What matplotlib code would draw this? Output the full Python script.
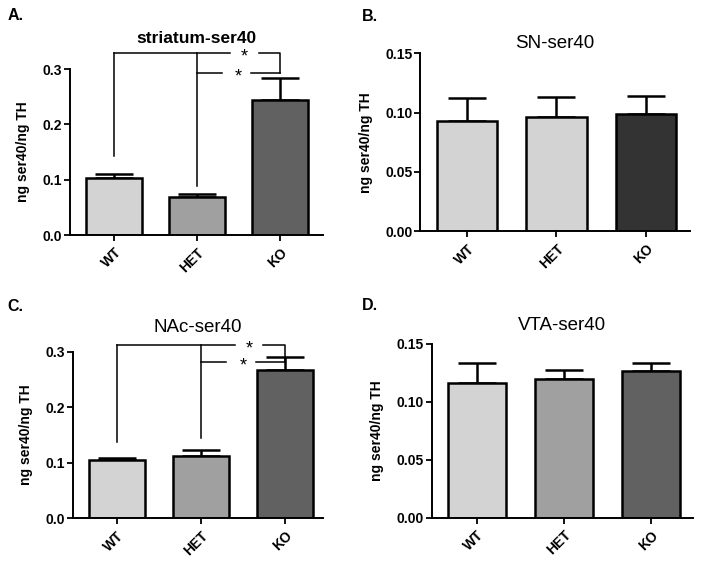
import numpy as np
import matplotlib
matplotlib.use("Agg")
import matplotlib.pyplot as plt

plt.rcParams['font.family'] = ['Liberation Sans', 'DejaVu Sans']

groups = ["WT", "HET", "KO"]

# values and upper error (SEM)
striatum_mean = [0.1035, 0.069, 0.244]
striatum_err = [0.0075, 0.005, 0.040]
sn_mean = [0.093, 0.096, 0.0985]
sn_err = [0.019, 0.017, 0.0155]
nac_mean = [0.105, 0.112, 0.268]
nac_err = [0.003, 0.011, 0.023]
vta_mean = [0.1166, 0.1198, 0.127]
vta_err = [0.017, 0.008, 0.0066]

light = "#d3d3d3"
mid = "#a0a0a0"
dark = "#616161"
darker = "#333333"


def panel(rect, means, errs, colors, title, bold_title, pad, ylim, yticks, fmt, xlim, width):
    ax = fig.add_axes(rect)
    x = np.arange(len(groups))
    ax.bar(x, means, width=width, color=colors, edgecolor="black", linewidth=1.8, zorder=2)
    ax.errorbar(x, means, yerr=[np.zeros(3), errs], fmt="none", ecolor="black",
                elinewidth=1.8, capsize=14, capthick=1.8, zorder=1)
    ax.set_xlim(*xlim)
    ax.set_ylim(*ylim)
    ax.set_yticks(yticks)
    ax.set_yticklabels([fmt.format(v) for v in yticks], fontsize=10, fontweight="bold")
    ax.set_xticks(x)
    ax.set_xticklabels(groups, rotation=45, ha="right", rotation_mode="anchor",
                       fontsize=10, fontweight="bold")
    for s in ["top", "right"]:
        ax.spines[s].set_visible(False)
    for s in ["left", "bottom"]:
        ax.spines[s].set_linewidth(1.4)
    ax.tick_params(width=1.3, length=4, direction="out")
    ax.tick_params(axis="y", pad=1.5)
    ax.set_ylabel("ng ser40/ng TH", fontsize=10, fontweight="bold", labelpad=9)
    if bold_title:
        ax.set_title(title, fontsize=12.5, fontweight="bold", pad=pad)
    else:
        ax.set_title(title, fontsize=13.5, pad=pad)
    return ax


def star(ax, x, y):
    ax.annotate("*", (x, y), xytext=(0, -3), textcoords="offset points",
                ha="center", va="center", fontsize=13, annotation_clip=False)


def brackets(ax, y1, y2, bot_wt, bot_het, xr):
    kw = dict(color="black", lw=1.1, clip_on=False)
    # WT vs KO
    ax.plot([0, 0], [bot_wt, y1], **kw)
    ax.plot([0, 1.4], [y1, y1], **kw)
    ax.plot([1.74, xr, xr], [y1, y1, y2], **kw)
    star(ax, 1.57, y1)
    # HET vs KO
    ax.plot([1, 1], [bot_het, y1], **kw)
    ax.plot([1, 1.3], [y2, y2], **kw)
    ax.plot([1.65, xr], [y2, y2], **kw)
    star(ax, 1.5, y2)


fig = plt.figure(figsize=(7.04, 5.61), dpi=100)

axA = panel([0.0994, 0.581, 0.360, 0.296], striatum_mean, striatum_err, [light, mid, dark],
            "striatum-ser40", True, 19, (0, 0.3), [0.0, 0.1, 0.2, 0.3], "{:.1f}", (-0.53, 2.52), 0.675)
brackets(axA, 0.329, 0.293, 0.143, 0.089, 2.0)

axB = panel([0.5966, 0.588, 0.384, 0.317], sn_mean, sn_err, [light, light, darker],
            "SN-ser40", False, 4, (0, 0.15), [0.0, 0.05, 0.10, 0.15], "{:.2f}", (-0.528, 2.5), 0.674)

axC = panel([0.1037, 0.076, 0.355, 0.297], nac_mean, nac_err, [light, mid, dark],
            "NAc-ser40", False, 14, (0, 0.3), [0.0, 0.1, 0.2, 0.3], "{:.1f}", (-0.52, 2.45), 0.66)
brackets(axC, 0.313, 0.282, 0.138, 0.144, 2.0)

axD = panel([0.613, 0.077, 0.371, 0.310], vta_mean, vta_err, [light, mid, dark],
            "VTA-ser40", False, 10, (0, 0.15), [0.0, 0.05, 0.10, 0.15], "{:.2f}", (-0.52, 2.48), 0.67)

for lab, (fx, fy) in zip(["A.", "B.", "C.", "D."],
                         [(0.011, 0.973), (0.514, 0.970), (0.011, 0.453), (0.514, 0.456)]):
    fig.text(fx, fy, lab, fontsize=11.5, fontweight="bold", ha="left", va="center")

fig.savefig("out.png", dpi=100)
